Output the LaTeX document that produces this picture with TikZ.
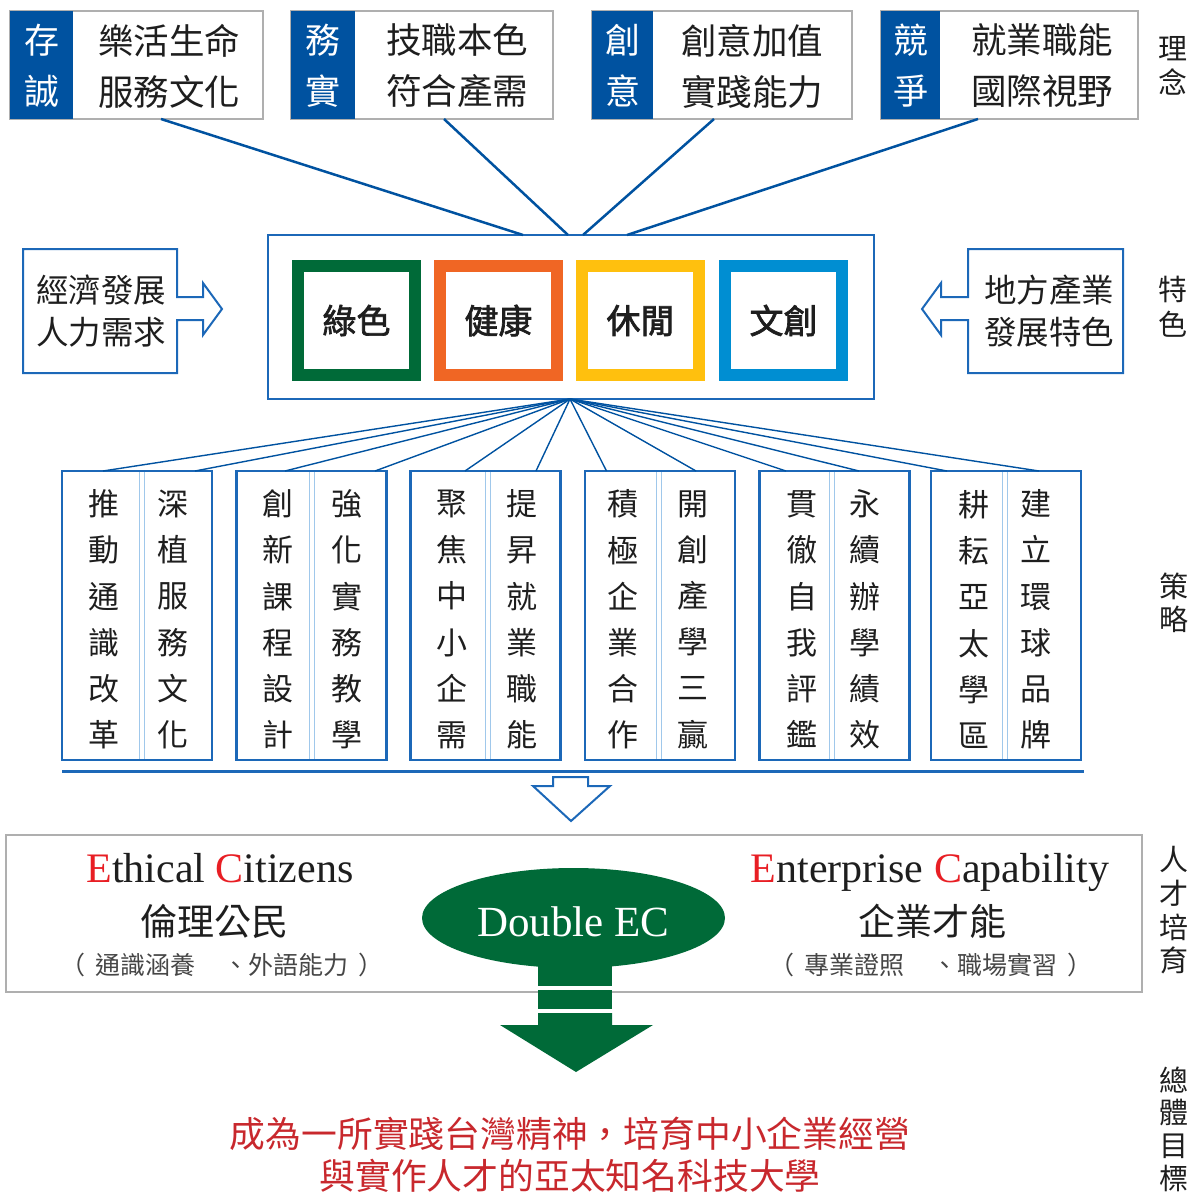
\documentclass[tikz,border=0pt]{standalone}
\usepackage{fontspec}
\setmainfont{Liberation Serif}
\newfontfamily\cjk{Noto Sans CJK TC}
\newfontfamily\cjkb[FakeBold=2]{Noto Sans CJK TC}
\usetikzlibrary{shapes.geometric}
\definecolor{dblue}{RGB}{0,82,160}
\definecolor{lblue}{RGB}{28,104,184}
\definecolor{pale}{RGB}{160,200,235}
\definecolor{gbox}{RGB}{175,175,175}
\definecolor{cgreen}{RGB}{0,106,56}
\definecolor{corange}{RGB}{240,102,36}
\definecolor{cyellow}{RGB}{255,192,14}
\definecolor{cblue}{RGB}{0,142,210}
\definecolor{ecgreen}{RGB}{0,106,56}
\definecolor{goalred}{RGB}{200,40,45}
\definecolor{ered}{RGB}{232,30,36}
\definecolor{txt}{RGB}{30,30,30}
\definecolor{subtxt}{RGB}{70,70,70}
\newcommand\cf[2]{\cjk\fontsize{#1}{#2}\selectfont}
\tikzset{
  every node/.style={inner sep=0pt, outer sep=0pt},
  pbox/.style={draw=gbox, line width=1.2pt, minimum height=108pt},
  ptxt/.style={align=center, text=txt, font=\cf{35.5}{51}},
  pkey/.style={align=center, text=white, font=\cf{35}{51}},
  conn/.style={draw=dblue, line width=2.5pt},
  fan/.style={draw=dblue, line width=1.4pt},
  sq/.style={line width=12pt, minimum width=117pt, minimum height=109pt, text=txt, font=\cjkb\fontsize{34}{40}\selectfont},
  sbox/.style={draw=lblue, line width=2.5pt, minimum width=150pt, minimum height=289pt},
  vcol/.style={align=center, text=txt, font=\cf{31}{46.2}},
  sidetxt/.style={align=center, text=txt, font=\cf{32.5}{42}},
  sidebox/.style={draw=lblue, line width=2pt, line join=miter},
  vlab/.style={align=center, text=txt, font=\cf{29}{#1}},
  entxt/.style={anchor=base, text=txt, font=\fontsize{42}{50}\selectfont},
  zhtxt/.style={text=txt, font=\cf{37}{44}},
  subline/.style={text=subtxt, font=\cf{25}{30}},
}
\newcommand\strat[7]{%
  \draw[pale, line width=1pt] (#3,471) -- (#3,760);
  \draw[pale, line width=1pt] (#3+5,471) -- (#3+5,760);
  \node[sbox] (#1) at (#2+75,615.5) {};
  \node[vcol] (#1a) at (#4,619.5) {#6};
  \node[vcol] (#1b) at (#5,619.5) {#7};
}
\begin{document}
\begin{tikzpicture}[x=1pt,y=-1pt]
\useasboundingbox (0,0) rectangle (1195,1194);
% ---- top boxes
\node[pbox, minimum width=253pt] (p1) at (136.5,65) {};
\node[pbox, minimum width=262pt] (p2) at (422,65) {};
\node[pbox, minimum width=260pt] (p3) at (722,65) {};
\node[pbox, minimum width=257pt] (p4) at (1009.5,65) {};
\fill[dblue] (p1.north west) rectangle ([xshift=63pt]p1.south west);
\fill[dblue] (p2.north west) rectangle ([xshift=64pt]p2.south west);
\fill[dblue] (p3.north west) rectangle ([xshift=61pt]p3.south west);
\fill[dblue] (p4.north west) rectangle ([xshift=59pt]p4.south west);
\node[pkey] (k1) at (42,66) {存\\誠};
\node[pkey] (k2) at (323,66) {務\\實};
\node[pkey] (k3) at (622.5,66) {創\\意};
\node[pkey] (k4) at (910.5,66) {競\\爭};
\node[ptxt] (t1) at (169,66) {樂活生命\\服務文化};
\node[ptxt] (t2) at (457,66) {技職本色\\符合產需};
\node[ptxt] (t3) at (752,66) {創意加值\\實踐能力};
\node[ptxt] (t4) at (1042,66) {就業職能\\國際視野};
% ---- center box
\node[draw=lblue, line width=2.5pt, minimum width=606pt, minimum height=164pt] (C) at (571,317) {};
\node[sq, draw=cgreen] (g1) at (356.5,320.5) {綠色};
\node[sq, draw=corange] (g2) at (498.5,320.5) {健康};
\node[sq, draw=cyellow] (g3) at (640.5,320.5) {休閒};
\node[sq, draw=cblue] (g4) at (783.5,320.5) {文創};
% top connectors
\draw[conn] ([xshift=24.5pt]p1.south) -- ([xshift=-48pt]C.north);
\draw[conn] ([xshift=22pt]p2.south) -- ([xshift=-3pt]C.north);
\draw[conn] ([xshift=-8pt]p3.south) -- ([xshift=12pt]C.north);
\draw[conn] ([xshift=-31.5pt]p4.south) -- ([xshift=56pt]C.north);
% ---- side arrow boxes
\draw[sidebox] (23,249) -- (177,249) -- (177,297) -- (203,297) -- (203,283) -- (222,309) -- (203,335) -- (203,320) -- (177,320) -- (177,373) -- (23,373) -- cycle;
\draw[sidebox] (1123,249) -- (968,249) -- (968,297) -- (941,297) -- (941,283) -- (922,309) -- (941,335) -- (941,320) -- (968,320) -- (968,373) -- (1123,373) -- cycle;
\node[sidetxt] (L) at (101,311) {經濟發展\\人力需求};
\node[sidetxt] (R) at (1049,311) {地方產業\\發展特色};
% ---- strategies
\strat{s1}{62}{139}{103.5}{172.5}{推\\動\\通\\識\\改\\革}{深\\植\\服\\務\\文\\化}
\strat{s2}{236.5}{309}{278}{347}{創\\新\\課\\程\\設\\計}{強\\化\\實\\務\\教\\學}
\strat{s3}{410.5}{485}{451.5}{522}{聚\\焦\\中\\小\\企\\需}{提\\昇\\就\\業\\職\\能}
\strat{s4}{585}{656}{623}{693}{積\\極\\企\\業\\合\\作}{開\\創\\產\\學\\三\\贏}
\strat{s5}{759.5}{829}{802}{865}{貫\\徹\\自\\我\\評\\鑑}{永\\續\\辦\\學\\績\\效}
\strat{s6}{931}{1002}{974}{1036}{耕\\耘\\亞\\太\\學\\區}{建\\立\\環\\球\\品\\牌}
% fan connectors
\draw[fan] ([xshift=-1pt]C.south) -- ([xshift=-34pt]s1.north);
\draw[fan] ([xshift=-1pt]C.south) -- ([xshift=58pt]s1.north);
\draw[fan] ([xshift=-1pt]C.south) -- ([xshift=-26.5pt]s2.north);
\draw[fan] ([xshift=-1pt]C.south) -- ([xshift=63.5pt]s2.north);
\draw[fan] ([xshift=-1pt]C.south) -- ([xshift=-20.5pt]s3.north);
\draw[fan] ([xshift=-1pt]C.south) -- ([xshift=50.5pt]s3.north);
\draw[fan] ([xshift=-1pt]C.south) -- ([xshift=-53.5pt]s4.north);
\draw[fan] ([xshift=-1pt]C.south) -- ([xshift=36pt]s4.north);
\draw[fan] ([xshift=-1pt]C.south) -- ([xshift=-48.5pt]s5.north);
\draw[fan] ([xshift=-1pt]C.south) -- ([xshift=24.5pt]s5.north);
\draw[fan] ([xshift=-1pt]C.south) -- ([xshift=-59pt]s6.north);
\draw[fan] ([xshift=-1pt]C.south) -- ([xshift=33pt]s6.north);
% rule and hollow arrow
\draw[lblue, line width=3pt] (62,771.5) -- (1084,771.5);
\draw[lblue, line width=2pt, line join=miter] (553,777) -- (588,777) -- (588,786) -- (610,786) -- (571,821) -- (533,786) -- (553,786) -- cycle;
% ---- talent box
\node[draw=gbox, line width=2pt, minimum width=1136pt, minimum height=157pt] (T) at (574,913.5) {};
\node[entxt] (ec1) at (220,882) {\textcolor{ered}{E}thical \textcolor{ered}{C}itizens};
\node[entxt] (ec2) at (930,882) {\textcolor{ered}{E}nterprise \textcolor{ered}{C}apability};
\node[zhtxt] (z1) at (214,921) {倫理公民};
\node[zhtxt] (z2) at (932,921) {企業才能};
\node[subline] (u1) at (222,965) {（\hspace{0.4em}通識涵養\hspace{1.1em}、外語能力\hspace{0.4em}）};
\node[subline] (u2) at (931,965) {（\hspace{0.4em}專業證照\hspace{1.1em}、職場實習\hspace{0.4em}）};
% Double EC
\node[ellipse, fill=ecgreen, minimum width=303pt, minimum height=100pt] (E) at (573.5,918) {};
\node[text=white, font=\fontsize{43}{50}\selectfont] (Et) at (573.5,922) {Double EC};
\fill[ecgreen] ([xshift=-35.5pt,yshift=10pt]E.south) rectangle (612,986);
\fill[ecgreen] (538,990) rectangle (612,1009);
\fill[ecgreen] (538,1013) -- (612,1013) -- (612,1025) -- (653,1025) -- (576,1072) -- (500,1025) -- (538,1025) -- cycle;
% ---- goal
\node[align=center, text=goalred, font=\cf{35.8}{42}] (G) at (570,1155) {成為一所實踐台灣精神，培育中小企業經營\\與實作人才的亞太知名科技大學};
% ---- side labels
\node[vlab=34] (l1) at (1173,66) {理\\念};
\node[vlab=35] (l2) at (1173,307) {特\\色};
\node[vlab=33] (l3) at (1174,603) {策\\略};
\node[vlab=33.7] (l4) at (1174,910.5) {人\\才\\培\\育};
\node[vlab=32.7] (l5) at (1174,1129) {總\\體\\目\\標};
\end{tikzpicture}
\end{document}
